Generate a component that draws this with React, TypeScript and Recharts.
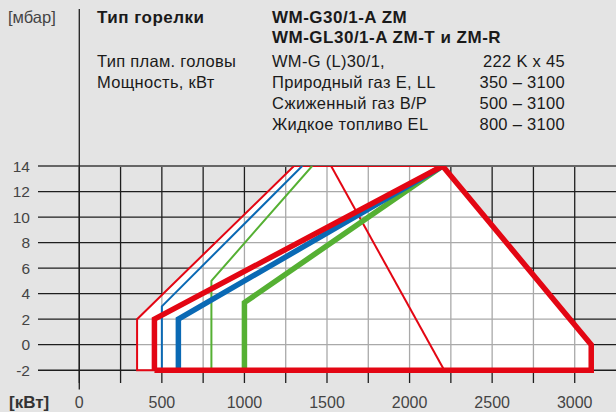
import React from 'react';
import { ComposedChart, Line, Area, XAxis, YAxis, CartesianGrid, ReferenceLine } from 'recharts';

// power axis [kW] and pressure axis [mbar]
const xTicks = [0, 500, 1000, 1500, 2000, 2500, 3000];
const yTicks = [-2, 0, 2, 4, 6, 8, 10, 12, 14];
const gridX = [0, 250, 500, 750, 1000, 1250, 1500, 1750, 2000, 2250, 2500, 2750, 3000];
const gridY = [-3, -2, -1, 0, 1, 2, 3, 4, 5, 6, 7, 8, 9, 10, 11, 12, 13, 14];

// white working field (upper edge, lower edge at -2 mbar)
const fieldTop = [
  { x: 350, y: 2 },
  { x: 1300, y: 14 },
  { x: 2200, y: 14 },
  { x: 3100, y: 0 },
];

// thin lines
const thinRed = [
  { x: 455, y: -2 },
  { x: 350, y: -2 },
  { x: 350, y: 2 },
  { x: 1300, y: 14 },
  { x: 2200, y: 14 },
];
const thinRedDiag = [
  { x: 1525, y: 14 },
  { x: 2210, y: -2 },
];
const thinBlue = [
  { x: 500, y: -2 },
  { x: 500, y: 3 },
  { x: 1350, y: 14 },
];
const thinGreen = [
  { x: 800, y: -2 },
  { x: 800, y: 5 },
  { x: 1410, y: 14 },
];

// thick lines
const thickRed = [
  { x: 455, y: -2 },
  { x: 455, y: 2 },
  { x: 2200, y: 14 },
  { x: 3100, y: 0 },
  { x: 3100, y: -2 },
  { x: 455, y: -2 },
];
const thickBlue = [
  { x: 600, y: -2 },
  { x: 600, y: 2 },
  { x: 2200, y: 14 },
];
const thickGreen = [
  { x: 1000, y: -2 },
  { x: 1000, y: 3.3 },
  { x: 2200, y: 14 },
];

const RED = '#e30613';
const BLUE = '#0a69b4';
const GREEN = '#55b033';
const FONT = '"Liberation Sans", Arial, Helvetica, sans-serif';

const txt: React.CSSProperties = {
  position: 'absolute',
  fontSize: 16.5,
  letterSpacing: 0.3,
  lineHeight: '18px',
  color: '#1a1a1a',
  whiteSpace: 'nowrap',
};
const bold: React.CSSProperties = { fontWeight: 700, fontSize: 17, letterSpacing: 0.5 };

const App = () => {
  return (
    <div style={{ position: 'relative', width: 616, height: 412, background: '#e4e4e4', fontFamily: FONT, overflow: 'hidden' }}>
      <style>{'body{margin:0}'}</style>

      <div style={{ ...txt, left: 8, top: 8, color: '#444', letterSpacing: 0 }}>[мбар]</div>
      <div style={{ ...txt, ...bold, left: 97, top: 9 }}>Тип горелки</div>
      <div style={{ ...txt, ...bold, left: 272, top: 9 }}>WM-G30/1-A ZM</div>
      <div style={{ ...txt, ...bold, left: 272, top: 29 }}>WM-GL30/1-A ZM-T и ZM-R</div>
      <div style={{ ...txt, left: 97, top: 52 }}>Тип плам. головы</div>
      <div style={{ ...txt, left: 272, top: 52 }}>WM-G (L)30/1,</div>
      <div style={{ ...txt, right: 51, top: 52 }}>222 K x 45</div>
      <div style={{ ...txt, left: 97, top: 73 }}>Мощность, кВт</div>
      <div style={{ ...txt, left: 272, top: 73 }}>Природный газ E, LL</div>
      <div style={{ ...txt, right: 51, top: 73 }}>350 – 3100</div>
      <div style={{ ...txt, left: 272, top: 94 }}>Сжиженный газ B/P</div>
      <div style={{ ...txt, right: 51, top: 94 }}>500 – 3100</div>
      <div style={{ ...txt, left: 272, top: 115 }}>Жидкое топливо EL</div>
      <div style={{ ...txt, right: 51, top: 115 }}>800 – 3100</div>
      <div style={{ ...txt, left: 9, top: 394, fontWeight: 700, fontSize: 17, letterSpacing: 0, color: '#333' }}>[кВт]</div>

      <div style={{ position: 'absolute', left: 0, top: 0 }}>
        <ComposedChart width={616} height={412} margin={{ top: 166, right: 0, left: 0, bottom: 0 }}>
          <XAxis
            type="number"
            dataKey="x"
            domain={[-250, 3250]}
            allowDataOverflow
            ticks={xTicks}
            height={29}
            axisLine={false}
            tickLine={false}
            tickMargin={8}
            tick={{ fill: '#444', fontSize: 16, fontFamily: FONT }}
          />
          <YAxis
            type="number"
            dataKey="y"
            domain={[-3, 14]}
            allowDataOverflow
            ticks={yTicks}
            width={38}
            axisLine={false}
            tickLine={false}
            tick={{ fill: '#444', fontSize: 15.5, fontFamily: FONT }}
          />
          <Area
            data={fieldTop}
            dataKey="y"
            type="linear"
            baseValue={-2}
            fill="#ffffff"
            fillOpacity={1}
            stroke="none"
            zIndex={-200}
            isAnimationActive={false}
          />
          <CartesianGrid
            horizontalValues={gridY}
            verticalValues={gridX}
            stroke="#1e1e1e"
            strokeWidth={1.3}
            zIndex={-100}
          />
          <Area
            data={fieldTop}
            dataKey="y"
            type="linear"
            baseValue={-2}
            fill="#ffffff"
            fillOpacity={0.62}
            stroke="none"
            zIndex={-50}
            isAnimationActive={false}
          />
          <ReferenceLine y={14} stroke="#666" strokeWidth={2} zIndex={-40} />
          <ReferenceLine
            segment={[{ x: 0, y: -3.5 }, { x: 0, y: 26.3 }]}
            ifOverflow="visible"
            stroke="#1e1e1e"
            strokeWidth={1.3}
            zIndex={-40}
          />
          <Line data={thinRed} dataKey="y" type="linear" stroke={RED} strokeWidth={2} dot={false} activeDot={false} isAnimationActive={false} />
          <Line data={thinRedDiag} dataKey="y" type="linear" stroke={RED} strokeWidth={2} dot={false} activeDot={false} isAnimationActive={false} />
          <Line data={thinBlue} dataKey="y" type="linear" stroke={BLUE} strokeWidth={2} dot={false} activeDot={false} isAnimationActive={false} />
          <Line data={thinGreen} dataKey="y" type="linear" stroke={GREEN} strokeWidth={2} dot={false} activeDot={false} isAnimationActive={false} />
          <Line data={thickGreen} dataKey="y" type="linear" stroke={GREEN} strokeWidth={5.5} strokeLinejoin="miter" dot={false} activeDot={false} isAnimationActive={false} />
          <Line data={thickBlue} dataKey="y" type="linear" stroke={BLUE} strokeWidth={5.5} strokeLinejoin="miter" dot={false} activeDot={false} isAnimationActive={false} />
          <Line data={thickRed} dataKey="y" type="linear" stroke={RED} strokeWidth={5.5} strokeLinejoin="miter" dot={false} activeDot={false} isAnimationActive={false} />
        </ComposedChart>
      </div>
    </div>
  );
};

export default App;
